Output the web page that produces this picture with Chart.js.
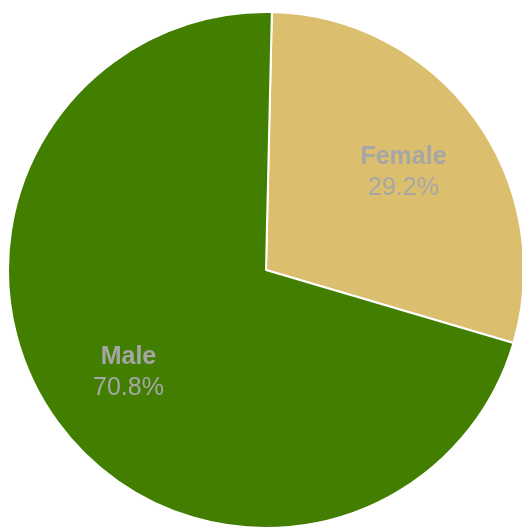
<!DOCTYPE html>
<html>
<head>
<meta charset="utf-8">
<script src="https://cdn.jsdelivr.net/npm/chart.js@4/dist/chart.umd.min.js"></script>
<style>
  html, body { margin: 0; padding: 0; background: #fff; overflow: hidden; width: 522px; height: 527px; }
  #wrap { position: absolute; left: 7px; top: 11px; width: 518px; height: 518px; }
</style>
</head>
<body>
<div id="wrap"><canvas id="pie"></canvas></div>
<script>
// data
const labels = ['Female', 'Male'];
const shares = [29.2, 70.8];
const colors = ['#dcbf6e', '#427f00'];

// draws name + percent inside each slice
const sliceLabels = {
  id: 'sliceLabels',
  afterDatasetsDraw(chart) {
    const ctx = chart.ctx;
    const meta = chart.getDatasetMeta(0);
    meta.data.forEach((arc, i) => {
      const mid = (arc.startAngle + arc.endAngle) / 2;
      const r = arc.outerRadius * 0.66;
      const x = arc.x + Math.cos(mid) * r;
      const y = arc.y + Math.sin(mid) * r;
      ctx.save();
      ctx.fillStyle = '#a6a6a6';
      ctx.textAlign = 'center';
      ctx.textBaseline = 'alphabetic';
      ctx.font = 'bold 25px "Liberation Sans", Arial, sans-serif';
      ctx.fillText(labels[i], x, y - 6);
      ctx.font = '25px "Liberation Sans", Arial, sans-serif';
      ctx.fillText(shares[i].toFixed(1) + '%', x, y + 25);
      ctx.restore();
    });
  }
};

new Chart(document.getElementById('pie'), {
  type: 'pie',
  data: {
    labels: labels,
    datasets: [{
      data: shares,
      backgroundColor: colors,
      borderColor: '#ffffff',
      borderWidth: 2
    }]
  },
  options: {
    responsive: true,
    maintainAspectRatio: false,
    animation: false,
    rotation: 1.3,
    layout: { padding: 0 },
    plugins: {
      legend: { display: false },
      tooltip: { enabled: false }
    }
  },
  plugins: [sliceLabels]
});
</script>
</body>
</html>
